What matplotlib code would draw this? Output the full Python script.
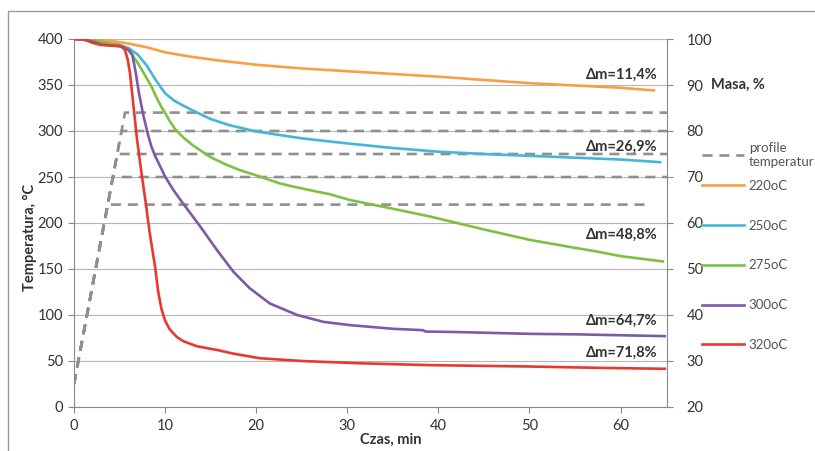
import matplotlib
matplotlib.use('Agg')
import matplotlib.pyplot as plt
from matplotlib.lines import Line2D
from matplotlib.patches import Rectangle

plt.rcParams['font.family'] = ['Lato', 'DejaVu Sans']

# ---------------- data ----------------
series_labels = ['220oC', '250oC', '275oC', '300oC', '320oC']
series_colors = ['#F5A142', '#45B5DA', '#7DC142', '#7D5AA6', '#E8392E']

t_220 = [0, 2, 4, 6, 8, 10, 13, 16, 20, 25, 30, 35, 40, 45, 50, 55, 60, 63.8]
m_220 = [100, 99.9, 99.6, 99.0, 98.2, 97.1, 96.1, 95.3, 94.4, 93.6, 93.0, 92.4,
         91.8, 91.1, 90.4, 89.9, 89.4, 88.8]

t_250 = [0, 2, 3, 4, 5, 6, 7, 8, 9, 10, 11, 12, 13, 15, 17, 20, 25, 30, 35, 40,
         45, 50, 55, 60, 64.5]
m_250 = [100, 99.9, 99.3, 99.0, 98.7, 98.0, 96.6, 94.2, 91.0, 88.2, 86.6, 85.5,
         84.5, 82.6, 81.3, 79.9, 78.4, 77.3, 76.3, 75.5, 75.0, 74.6, 74.2, 73.8, 73.2]

t_275 = [0, 2, 3, 4, 5, 5.5, 6, 6.5, 7, 7.5, 8, 8.5, 9, 9.6, 10, 10.5, 11.1, 12,
         13.1, 15, 16.8, 18.2, 20.4, 22.6, 24.1, 26.7, 28, 30.3, 32, 35, 39.1, 45,
         50.1, 55, 57.4, 60, 64.8]
m_275 = [100, 99.9, 99.3, 99.0, 98.7, 98.3, 97.5, 96.2, 94.8, 93.1, 91.4, 89.7,
         87.5, 85.2, 83.9, 82.2, 80.4, 78.6, 76.8, 74.3, 72.6, 71.5, 70.1, 68.6,
         67.9, 66.8, 66.3, 65.0, 64.3, 63.1, 61.4, 58.6, 56.3, 54.6, 53.8, 52.8, 51.6]

t_300 = [0, 1, 2, 3, 4, 5, 5.5, 6, 6.4, 6.77, 7.1, 7.6, 8.15, 8.5, 8.9, 10.0,
         10.9, 11.8, 13.8, 15.7, 17.5, 19.3, 21.5, 24.5, 27.4, 30.3, 35, 38.3,
         38.6, 42, 46, 50.1, 55, 60, 65]
m_300 = [100, 99.9, 99.5, 98.8, 98.6, 98.5, 98.2, 97.6, 96.6, 92.8, 88.6, 83.5,
         79.0, 76.6, 74.6, 70.1, 67.2, 64.7, 59.4, 54.1, 49.4, 45.8, 42.5, 40.0,
         38.5, 37.8, 37.0, 36.7, 36.4, 36.3, 36.1, 35.9, 35.8, 35.6, 35.4]

t_320 = [0, 1, 1.5, 2, 2.5, 3, 4, 5, 5.3, 5.6, 5.9, 6.15, 6.5, 6.9, 7.4, 7.9,
         8.3, 8.9, 9.25, 9.6, 10.0, 10.5, 11.3, 12.0, 13.5, 15.7, 17.5, 20.4, 25,
         31.4, 39.1, 50.1, 58, 65]
m_320 = [100, 99.9, 99.6, 99.2, 98.9, 98.7, 98.6, 98.4, 98.2, 97.6, 95.5, 92.5,
         86.0, 78.5, 71.0, 64.0, 58.0, 50.5, 45.0, 41.3, 38.8, 36.9, 35.2, 34.3,
         33.2, 32.4, 31.6, 30.6, 30.0, 29.5, 29.1, 28.8, 28.5, 28.3]

times = [t_220, t_250, t_275, t_300, t_320]
masses = [m_220, m_250, m_275, m_300, m_320]

# temperature profiles
profile_start_temp = 25
profile_levels = [220, 250, 275, 300, 320]
profile_ramp_end = [3.7, 4.27, 4.75, 5.22, 5.6]
profile_end = [63.3, 65.1, 65.1, 65.1, 65.1]

dm_labels = ['\u0394m=11,4%', '\u0394m=26,9%', '\u0394m=48,8%', '\u0394m=64,7%', '\u0394m=71,8%']
dm_pos = [92.2, 76.5, 57.4, 38.7, 31.7]

# ---------------- figure ----------------
W, H = 815, 451
fig = plt.figure(figsize=(W / 100, H / 100), dpi=100)
fig.patch.set_facecolor('white')

# outer frame
fig.add_artist(Rectangle((8 / W, -0.2), 1.2, 1.2 - 11 / H,
                         transform=fig.transFigure, fill=False,
                         edgecolor='#9a9a9a', lw=1.0))

ax = fig.add_axes([74 / W, 1 - 407 / H, (667 - 74) / W, (407 - 39) / H])
ax2 = ax.twinx()

ax.set_xlim(0, 65.1)
ax.set_ylim(0, 400)
ax2.set_ylim(20, 100)

spine_c = '#8a8a8a'
text_c = '#333333'

# grid
ax.set_yticks(range(0, 401, 50))
ax.set_xticks(range(0, 61, 10))
ax2.set_yticks(range(20, 101, 10))
ax.grid(axis='y', color='#b5b5b5', lw=0.8)
ax.set_axisbelow(True)

for s in ['top', 'right']:
    ax.spines[s].set_visible(False)
for s in ['top', 'left', 'bottom']:
    ax2.spines[s].set_visible(False)
ax.spines['left'].set_color(spine_c)
ax.spines['bottom'].set_color(spine_c)
ax2.spines['right'].set_color(spine_c)

ax.tick_params(axis='both', direction='out', length=4, color=spine_c,
               labelsize=10.5, labelcolor=text_c)
ax.tick_params(axis='x', pad=5)
ax.tick_params(axis='y', pad=4)
ax2.tick_params(axis='y', direction='out', length=4, color=spine_c,
                labelsize=10.5, labelcolor=text_c, pad=10)

# temperature profiles (left axis)
prof_color = '#8f8f8f'
for lvl, tr, te in zip(profile_levels, profile_ramp_end, profile_end):
    ax.plot([0, tr, te], [profile_start_temp, lvl, lvl], color=prof_color,
            lw=1.9, linestyle=(0, (3.8, 2.6)), zorder=2)

# mass curves (right axis)
for t, m, c, lab in zip(times, masses, series_colors, series_labels):
    ax2.plot(t, m, color=c, lw=1.9, label=lab, zorder=3, solid_capstyle='butt',
             solid_joinstyle='round')

for lab, y in zip(dm_labels, dm_pos):
    ax2.text(64.1, y, lab, ha='right', va='center', fontsize=10.5,
             fontweight='bold', color=text_c)

# axis labels
fig.text(30 / W, 1 - 237 / H, 'Temperatura, \u00b0C', rotation=90, ha='center',
         va='center', fontsize=10.5, fontweight='bold', color=text_c)
fig.text(391 / W, 1 - 440 / H, 'Czas, min', ha='center', va='center',
         fontsize=10.5, fontweight='bold', color=text_c)
fig.text(711 / W, 1 - 85 / H, 'Masa, %', ha='left', va='center',
         fontsize=10.5, fontweight='bold', color=text_c)

# legends
prof_handle = [Line2D([], [], color=prof_color, lw=1.9, linestyle=(0, (3.8, 2.6)))]
leg1 = ax2.legend(prof_handle, ['profile\ntemperatur'], loc='upper left',
                  bbox_to_anchor=(702 / W, 1 - 142 / H), bbox_transform=fig.transFigure,
                  frameon=False, fontsize=9.5, handlelength=3.2, handletextpad=0.35,
                  borderpad=0, borderaxespad=0, labelcolor='#555555')
ax2.add_artist(leg1)
handles = [Line2D([], [], color=c, lw=1.9) for c in series_colors]
ax2.legend(handles, series_labels, loc='upper left',
           bbox_to_anchor=(702 / W, 1 - 180 / H), bbox_transform=fig.transFigure,
           frameon=False, fontsize=9.5, handlelength=3.2, handletextpad=0.35,
           borderpad=0, borderaxespad=0, labelspacing=2.1, labelcolor='#555555')

fig.savefig('out.png', dpi=100)
